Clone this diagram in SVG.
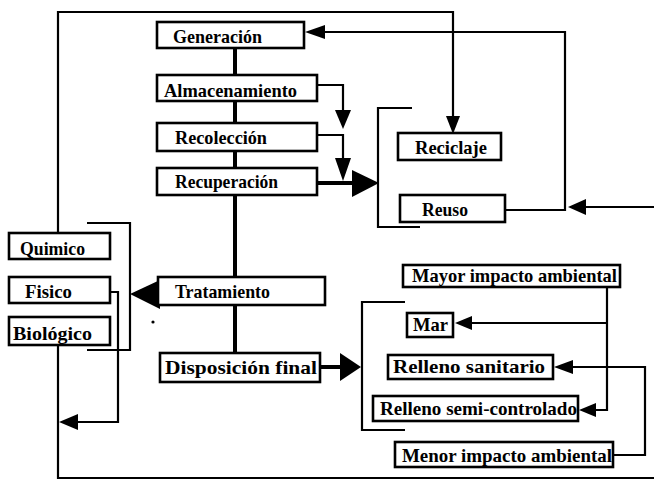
<svg xmlns="http://www.w3.org/2000/svg" width="654" height="484" viewBox="0 0 654 484">
<style>
.box{fill:#fff;stroke:#000;stroke-width:2.6}
.t{font-family:"Liberation Serif","DejaVu Serif",serif;font-weight:bold;font-size:19px;fill:#000}
.c{fill:none;stroke:#000;stroke-width:2.2}
.k{fill:none;stroke:#000;stroke-width:4}
.ah{fill:#000;stroke:none}
</style>
<rect width="654" height="484" fill="#fff"/>
<g id="connectors">
  <path class="k" d="M235 48V75M235 101V123M235 151V168M235 195V277M235 305V353"/>
  <path class="c" d="M58 233V12H453V118"/>
  <polygon class="ah" points="446,116 460,116 453,134"/>
  <path class="c" d="M58 345V478H654"/>
  <path class="c" d="M110 292H118V422H76"/>
  <polygon class="ah" points="78,414 78,430 59,422"/>
  <path class="c" d="M87 223H130V350H87"/>
  <polygon class="ah" points="160,280 160,309 130,294"/>
  <path class="c" d="M317 85H343V112"/>
  <polygon class="ah" points="335,110 351,110 343,129"/>
  <path class="c" d="M317 135H343V160"/>
  <polygon class="ah" points="335,158 351,158 343,181"/>
  <path class="k" d="M317 183H354"/>
  <polygon class="ah" points="352,170 352,197 379,183"/>
  <path class="c" d="M412 108H378V227H420"/>
  <path class="c" d="M505 210H565V32H323"/>
  <polygon class="ah" points="325,25 325,39 305,32"/>
  <path class="c" d="M654 207H584"/>
  <polygon class="ah" points="586,199 586,215 568,207"/>
  <path class="k" d="M320 367H342"/>
  <polygon class="ah" points="340,353 340,381 361,367"/>
  <path class="c" d="M405 302H362V430H405"/>
  <path class="c" d="M607 287V410H594"/>
  <polygon class="ah" points="596,403 596,417 579,410"/>
  <path class="c" d="M607 323H470"/>
  <polygon class="ah" points="472,316 472,330 455,323"/>
  <path class="c" d="M613 455H645V367H571"/>
  <polygon class="ah" points="573,360 573,374 554,367"/>
</g>
<circle cx="153" cy="322" r="1.6" fill="#000"/>
<g id="generacion"><rect class="box" x="157" y="22" width="147" height="26"/><text class="t" x="173" y="43" textLength="89" lengthAdjust="spacingAndGlyphs">Generación</text></g>
<g id="almacenamiento"><rect class="box" x="157" y="75" width="160" height="26"/><text class="t" x="164" y="97" textLength="133" lengthAdjust="spacingAndGlyphs">Almacenamiento</text></g>
<g id="recoleccion"><rect class="box" x="157" y="123" width="160" height="28"/><text class="t" x="175" y="144" textLength="92" lengthAdjust="spacingAndGlyphs">Recolección</text></g>
<g id="recuperacion"><rect class="box" x="157" y="168" width="160" height="27"/><text class="t" x="175" y="188" textLength="103" lengthAdjust="spacingAndGlyphs">Recuperación</text></g>
<g id="reciclaje"><rect class="box" x="398" y="133" width="103" height="27"/><text class="t" x="415" y="154" textLength="72" lengthAdjust="spacingAndGlyphs">Reciclaje</text></g>
<g id="reuso"><rect class="box" x="400" y="195" width="105" height="27"/><text class="t" x="422" y="216" textLength="46" lengthAdjust="spacingAndGlyphs">Reuso</text></g>
<g id="quimico"><rect class="box" x="9" y="233" width="101" height="26"/><text class="t" x="20" y="255" textLength="65" lengthAdjust="spacingAndGlyphs">Quimico</text></g>
<g id="fisico"><rect class="box" x="9" y="277" width="101" height="26"/><text class="t" x="25" y="298" textLength="47" lengthAdjust="spacingAndGlyphs">Fisico</text></g>
<g id="biologico"><rect class="box" x="9" y="317" width="101" height="28"/><text class="t" x="13" y="340" textLength="79" lengthAdjust="spacingAndGlyphs">Biológico</text></g>
<g id="tratamiento"><rect class="box" x="158" y="277" width="167" height="28"/><text class="t" x="175" y="298" textLength="95" lengthAdjust="spacingAndGlyphs">Tratamiento</text></g>
<g id="disposicion"><rect class="box" x="160" y="353" width="160" height="29"/><text class="t" x="165" y="374" textLength="152" lengthAdjust="spacingAndGlyphs">Disposición final</text></g>
<g id="mayor"><rect class="box" x="403" y="265" width="217" height="22"/><text class="t" x="412" y="282" textLength="205" lengthAdjust="spacingAndGlyphs">Mayor impacto ambiental</text></g>
<g id="mar"><rect class="box" x="407" y="313" width="46" height="24"/><text class="t" x="413" y="331" textLength="35" lengthAdjust="spacingAndGlyphs">Mar</text></g>
<g id="relleno-sanitario"><rect class="box" x="388" y="355" width="165" height="24"/><text class="t" x="393" y="373" textLength="152" lengthAdjust="spacingAndGlyphs">Relleno sanitario</text></g>
<g id="relleno-semi"><rect class="box" x="373" y="396" width="205" height="25"/><text class="t" x="380" y="415" textLength="197" lengthAdjust="spacingAndGlyphs">Relleno semi-controlado</text></g>
<g id="menor"><rect class="box" x="395" y="442" width="218" height="25"/><text class="t" x="402" y="462" textLength="210" lengthAdjust="spacingAndGlyphs">Menor impacto ambiental</text></g>
</svg>
